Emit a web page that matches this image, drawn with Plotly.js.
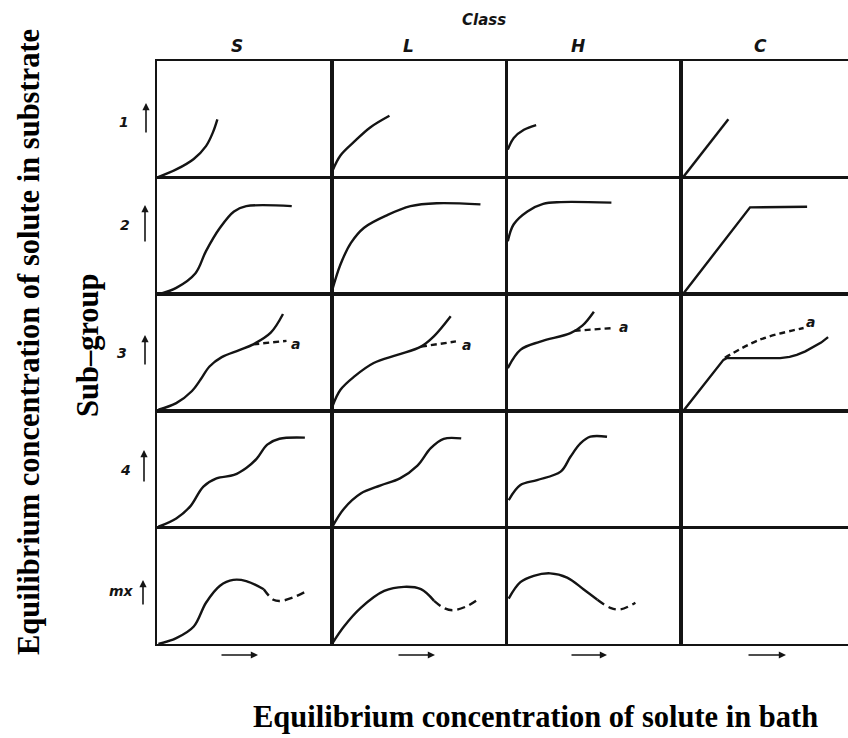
<!DOCTYPE html>
<html>
<head>
<meta charset="utf-8">
<script src="https://cdn.plot.ly/plotly-3.0.1.min.js"></script>
<style>html,body{margin:0;padding:0;background:#fff;}#chart{width:848px;height:738px;}</style>
</head>
<body>
<div id="chart"></div>
<script>
// ---------- Data (relative units inside each cell: x = bath conc., y = substrate conc.) ----------
const classes = ['S', 'L', 'H', 'C'];
const subgroups = ['1', '2', '3', '4', 'mx'];

// Sub-group 1
const S1x = [0.00, 0.11, 0.21, 0.28, 0.32, 0.345];
const S1y = [0.00, 0.07, 0.16, 0.27, 0.39, 0.50];
const L1x = [0.004, 0.05, 0.13, 0.22, 0.33];
const L1y = [0.057, 0.19, 0.31, 0.43, 0.53];
const H1x = [0.008, 0.042, 0.10, 0.17];
const H1y = [0.24, 0.34, 0.41, 0.45];
const C1x = [0.01, 0.27];
const C1y = [0.00, 0.50];

// Sub-group 2
const S2x = [0.013, 0.11, 0.22, 0.28, 0.36, 0.44, 0.51, 0.77];
const S2y = [0.00, 0.054, 0.18, 0.37, 0.57, 0.71, 0.755, 0.755];
const L2x = [0.004, 0.05, 0.11, 0.185, 0.32, 0.45, 0.60, 0.85];
const L2y = [0.04, 0.255, 0.44, 0.57, 0.68, 0.755, 0.78, 0.77];
const H2x = [0.008, 0.042, 0.12, 0.21, 0.31, 0.60];
const H2y = [0.455, 0.60, 0.71, 0.775, 0.79, 0.785];
const C2x = [0.01, 0.366, 0.394, 0.72];
const C2y = [0.00, 0.70, 0.745, 0.75];

// Sub-group 3
const S3x = [0.008, 0.11, 0.20, 0.25, 0.30, 0.37, 0.47, 0.55, 0.65, 0.72];
const S3y = [0.01, 0.066, 0.17, 0.27, 0.38, 0.46, 0.52, 0.57, 0.67, 0.83];
const S3ax = [0.55, 0.74];
const S3ay = [0.57, 0.60];
const L3x = [0.004, 0.05, 0.13, 0.24, 0.375, 0.51, 0.585, 0.68];
const L3y = [0.037, 0.18, 0.295, 0.41, 0.48, 0.55, 0.64, 0.81];
const L3ax = [0.51, 0.71];
const L3ay = [0.55, 0.595];
const H3x = [0.008, 0.08, 0.194, 0.366, 0.434, 0.50];
const H3y = [0.366, 0.523, 0.594, 0.666, 0.73, 0.85];
const H3ax = [0.39, 0.61];
const H3ay = [0.686, 0.71];
const C3x = [0.013, 0.242, 0.26, 0.50, 0.566, 0.62, 0.661, 0.71, 0.756, 0.80, 0.84];
const C3y = [0.00, 0.437, 0.452, 0.452, 0.452, 0.462, 0.48, 0.51, 0.546, 0.585, 0.632];
const C3ax = [0.25, 0.45, 0.70];
const C3ay = [0.455, 0.61, 0.71];

// Sub-group 4
const S4x = [0.008, 0.11, 0.19, 0.265, 0.34, 0.44, 0.51, 0.57, 0.63, 0.70, 0.845];
const S4y = [0.006, 0.077, 0.18, 0.35, 0.42, 0.45, 0.51, 0.59, 0.71, 0.76, 0.77];
const L4x = [0.004, 0.07, 0.166, 0.28, 0.39, 0.49, 0.566, 0.64, 0.74];
const L4y = [0.006, 0.16, 0.29, 0.36, 0.42, 0.53, 0.68, 0.76, 0.763];
const H4x = [0.013, 0.08, 0.175, 0.31, 0.366, 0.423, 0.48, 0.575];
const H4y = [0.234, 0.363, 0.406, 0.478, 0.606, 0.72, 0.778, 0.778];

// Sub-group mx
const S5x = [0.008, 0.11, 0.21, 0.28, 0.36, 0.436, 0.51, 0.61];
const S5y = [0.00, 0.05, 0.15, 0.354, 0.50, 0.55, 0.54, 0.47];
const S5dx = [0.61, 0.665, 0.71, 0.78, 0.846];
const S5dy = [0.47, 0.38, 0.37, 0.40, 0.446];
const L5x = [0.004, 0.07, 0.166, 0.30, 0.413, 0.51, 0.585];
const L5y = [0.006, 0.15, 0.31, 0.455, 0.49, 0.47, 0.37];
const L5dx = [0.585, 0.64, 0.69, 0.766, 0.833];
const L5dy = [0.37, 0.31, 0.29, 0.32, 0.38];
const H5x = [0.013, 0.08, 0.156, 0.25, 0.347, 0.44, 0.52];
const H5y = [0.39, 0.53, 0.585, 0.606, 0.57, 0.47, 0.38];
const H5dx = [0.52, 0.594, 0.65, 0.737];
const H5dy = [0.38, 0.31, 0.296, 0.354];

// curve list: [class, subgroup, xs, ys, kind]
const curves = [
  ['S','1',S1x,S1y,'s'], ['L','1',L1x,L1y,'s'], ['H','1',H1x,H1y,'s'], ['C','1',C1x,C1y,'l'],
  ['S','2',S2x,S2y,'s'], ['L','2',L2x,L2y,'s'], ['H','2',H2x,H2y,'s'], ['C','2',C2x,C2y,'l'],
  ['S','3',S3x,S3y,'s'], ['S','3',S3ax,S3ay,'d'],
  ['L','3',L3x,L3y,'s'], ['L','3',L3ax,L3ay,'d'],
  ['H','3',H3x,H3y,'s'], ['H','3',H3ax,H3ay,'d'],
  ['C','3',C3x,C3y,'l'], ['C','3',C3ax,C3ay,'d'],
  ['S','4',S4x,S4y,'s'], ['L','4',L4x,L4y,'s'], ['H','4',H4x,H4y,'s'],
  ['S','mx',S5x,S5y,'s'], ['S','mx',S5dx,S5dy,'d2'],
  ['L','mx',L5x,L5y,'s'], ['L','mx',L5dx,L5dy,'d2'],
  ['H','mx',H5x,H5y,'s'], ['H','mx',H5dx,H5dy,'d2']
];
// branch labels "a": [class, subgroup, x, y]
const branchLabels = [['S','3',0.79,0.57], ['L','3',0.77,0.566], ['H','3',0.67,0.72], ['C','3',0.737,0.76]];

// ---------- Layout ----------
const W = 848, Hh = 738;
const mL = 157, mR = 0, mT = 61, mB = 94;
const pw = W - mL - mR, ph = Hh - mT - mB;
const colW = 174.7, cellUnit = 175;
function px(x) { return (x - mL) / pw; }
function py(y) { return (Hh - mB - y) / ph; }
function axn(r, c) { return r * 4 + c + 1; }
function sfx(n) { return n === 1 ? '' : String(n); }

const layout = {
  width: W, height: Hh,
  margin: {l: mL, r: mR, t: mT, b: mB, pad: 0},
  paper_bgcolor: '#fff', plot_bgcolor: '#fff',
  showlegend: false,
  annotations: [], shapes: []
};
const ink = '#141414';
const traces = [];
for (let r = 0; r < 5; r++) {
  for (let c = 0; c < 4; c++) {
    const n = axn(r, c);
    const x0 = c * colW / pw, x1 = Math.min(1, (c + 1) * colW / pw);
    const y0 = 1 - (r + 1) / 5, y1 = 1 - r / 5;
    layout['xaxis' + sfx(n)] = {
      domain: [x0, x1], range: [0, (x1 - x0) * pw / cellUnit], anchor: 'y' + sfx(n),
      showline: true, mirror: true, linecolor: ink, linewidth: 1.8,
      showgrid: false, zeroline: false, showticklabels: false, ticks: '', fixedrange: true
    };
    layout['yaxis' + sfx(n)] = {
      domain: [y0, y1], range: [0, 1], anchor: 'x' + sfx(n),
      showline: true, mirror: c < 3, linecolor: ink, linewidth: 1.8,
      showgrid: false, zeroline: false, showticklabels: false, ticks: '', fixedrange: true
    };
    // empty trace so every cell of the grid is drawn
    traces.push({type: 'scatter', mode: 'lines', x: [], y: [], xaxis: 'x' + sfx(n), yaxis: 'y' + sfx(n), hoverinfo: 'skip'});
  }
}

curves.forEach(cv => {
  const c = classes.indexOf(cv[0]), r = subgroups.indexOf(cv[1]);
  const n = axn(r, c);
  const kind = cv[4];
  const line = {color: ink, width: 2.4};
  if (kind === 's' || kind === 'd' || kind === 'd2') { line.shape = 'spline'; line.smoothing = 1; }
  if (kind === 'd') line.dash = '6px,4px';
  if (kind === 'd2') line.dash = '8px,5px';
  traces.push({type: 'scatter', mode: 'lines', x: cv[2], y: cv[3], xaxis: 'x' + sfx(n), yaxis: 'y' + sfx(n),
          line: line, hoverinfo: 'skip'});
});

const handFont = {family: 'DejaVu Sans, Liberation Sans, sans-serif', color: ink, weight: 'bold', style: 'italic'};
const serifBold = {family: 'Liberation Serif, Times New Roman, serif', color: '#000', weight: 'bold', size: 30.5};
function txt(x, y, text, font, extra) {
  return Object.assign({xref: 'paper', yref: 'paper', x: px(x), y: py(y), text: text, showarrow: false,
    xanchor: 'center', yanchor: 'middle', font: font}, extra || {});
}

branchLabels.forEach(b => {
  const c = classes.indexOf(b[0]), r = subgroups.indexOf(b[1]);
  const n = axn(r, c);
  layout.annotations.push({xref: 'x' + sfx(n), yref: 'y' + sfx(n), x: b[2], y: b[3], text: 'a',
    xanchor: 'center', yanchor: 'middle', showarrow: false, font: Object.assign({size: 14}, handFont)});
});

// header
layout.annotations.push(txt(484, 20, 'Class', Object.assign({size: 15}, handFont)));
const classLabelX = [237, 408, 578, 760];
classes.forEach((k, i) => {
  layout.annotations.push(txt(classLabelX[i], 46, k, Object.assign({size: 17}, handFont)));
  // bath concentration arrows below each column
  const ax0 = [220, 397, 570, 747][i], ax1 = [258, 435, 607, 786][i];
  layout.annotations.push({xref: 'paper', yref: 'paper', x: px(ax1), y: py(655), ax: ax0 - ax1, ay: 0, text: '',
    showarrow: true, arrowhead: 2, arrowsize: 0.9, arrowwidth: 1.6, arrowcolor: ink});
});
// sub-group labels and arrows
const subLabelY = [122, 225, 353, 470, 591];
const subLabelX = [124, 125, 122, 125, 121];
const subArrowX = [146, 145, 145, 144, 143];
const subArrowTop = [103, 205, 335, 450, 580];
const subArrowBot = [134, 243, 366, 483, 606];
subgroups.forEach((g, i) => {
  layout.annotations.push(txt(subLabelX[i], subLabelY[i], g, Object.assign({size: 14}, handFont)));
  layout.annotations.push({xref: 'paper', yref: 'paper', x: px(subArrowX[i]), y: py(subArrowTop[i]), ax: 0,
    ay: subArrowBot[i] - subArrowTop[i], text: '', showarrow: true, arrowhead: 2, arrowsize: 0.9, arrowwidth: 1.6, arrowcolor: ink});
});

// axis titles
layout.annotations.push(txt(535, 717, 'Equilibrium concentration of solute in bath', serifBold));
layout.annotations.push(txt(29, 342, 'Equilibrium concentration of solute in substrate', serifBold, {textangle: -90}));
layout.annotations.push(txt(88, 345, 'Sub\u2013group', serifBold, {textangle: -90}));

Plotly.newPlot('chart', traces, layout, {staticPlot: true, displayModeBar: false});
</script>
</body>
</html>
